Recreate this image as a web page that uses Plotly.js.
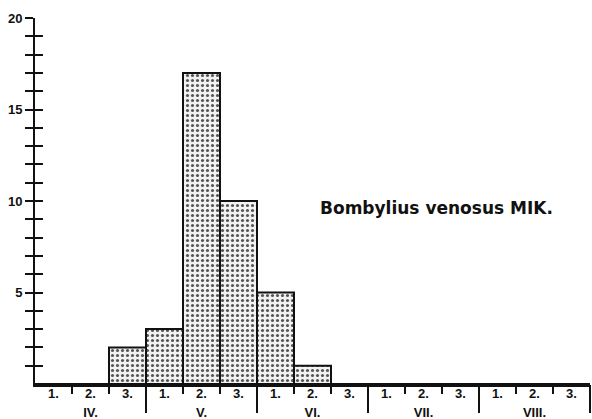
<!DOCTYPE html>
<html>
<head>
<meta charset="utf-8">
<script src="https://cdn.plot.ly/plotly-3.0.1.min.js"></script>
<style>html,body{margin:0;padding:0;background:#fff;}#chart{width:592px;height:419px;}</style>
</head>
<body>
<div id="chart"></div>
<script>
// Data
const months = ["IV.", "V.", "VI.", "VII.", "VIII."];
const decadeLabels = ["1.", "2.", "3."];
const counts = [0, 0, 2, 3, 17, 10, 5, 1, 0, 0, 0, 0, 0, 0, 0]; // one per decade, IV.1 .. VIII.3
const yLabelTicks = [5, 10, 15, 20];
const speciesName = "Bombylius venosus MIK.";

const nDec = counts.length;
const xCenters = counts.map((_, i) => i + 0.5);
const decText = counts.map((_, i) => decadeLabels[i % 3]);
const monthPos = months.map((_, m) => m * 3 + 1.5);
const monthBounds = months.map((_, m) => (m + 1) * 3);
const decBounds = [];
for (let i = 1; i < nDec; i++) if (i % 3 !== 0) decBounds.push(i);
const yTicks = [];
for (let v = 1; v <= 20; v++) yTicks.push(v);
const yText = yTicks.map(v => yLabelTicks.includes(v) ? String(v) : "");

const tickFont = {family: "Liberation Sans, Arial, sans-serif", size: 13, color: "#111", weight: "bold"};

const trace = {
  type: "bar",
  x: xCenters,
  y: counts,
  width: 1,
  marker: {
    color: "#ffffff",
    line: {color: "#111", width: 2},
    pattern: {shape: ".", fgcolor: "#555", bgcolor: "#f2f2f2", size: 5, solidity: 0.3}
  },
  hoverinfo: "skip"
};

const baseX = {range: [0, nDec], showgrid: false, zeroline: false, fixedrange: true};

const layout = {
  width: 592, height: 419,
  margin: {l: 35, r: 2, t: 18, b: 35},
  paper_bgcolor: "#ffffff", plot_bgcolor: "#ffffff",
  showlegend: false,
  bargap: 0,
  xaxis: Object.assign({}, baseX, {
    showline: true, linewidth: 3, linecolor: "#111",
    tickmode: "array", tickvals: decBounds, ticks: "outside", ticklen: 7, tickwidth: 2, tickcolor: "#111",
    showticklabels: false
  }),
  xaxis2: Object.assign({}, baseX, {
    overlaying: "x", anchor: "y", side: "bottom",
    tickmode: "array", tickvals: monthBounds, ticks: "outside", ticklen: 28, tickwidth: 2, tickcolor: "#111",
    showticklabels: false, showline: false
  }),
  xaxis3: Object.assign({}, baseX, {
    overlaying: "x", anchor: "y", side: "bottom",
    tickmode: "array", tickvals: xCenters, ticktext: decText, ticks: "", ticklen: 0,
    tickfont: tickFont, showline: false
  }),
  xaxis4: Object.assign({}, baseX, {
    overlaying: "x", anchor: "y", side: "bottom",
    tickmode: "array", tickvals: monthPos, ticktext: months, ticks: "outside", ticklen: 16,
    tickcolor: "rgba(0,0,0,0)", tickfont: tickFont, showline: false
  }),
  yaxis: {
    range: [0, 20], showgrid: false, zeroline: false, fixedrange: true,
    showline: true, linewidth: 2, linecolor: "#111",
    tickmode: "array", tickvals: yTicks, ticktext: yText,
    ticks: "outside", ticklen: 8, tickwidth: 2, tickcolor: "#111",
    tickfont: tickFont
  },
  yaxis2: {
    range: [0, 20], overlaying: "y", anchor: "x", side: "left",
    showgrid: false, zeroline: false, fixedrange: true, showline: false,
    tickmode: "array", tickvals: yTicks, ticks: "inside", ticklen: 8, tickwidth: 2, tickcolor: "#111",
    showticklabels: false
  },
  annotations: [{
    text: speciesName, xref: "x", yref: "y", x: 10.85, y: 9.6,
    showarrow: false, xanchor: "center", yanchor: "middle",
    font: {family: "DejaVu Sans, sans-serif", size: 17, color: "#111", weight: "bold"}
  }]
};

const helpers = [
  {type: "scatter", x: [0], y: [0], xaxis: "x2", yaxis: "y", mode: "markers", marker: {opacity: 0}, hoverinfo: "skip"},
  {type: "scatter", x: [0], y: [0], xaxis: "x3", yaxis: "y", mode: "markers", marker: {opacity: 0}, hoverinfo: "skip"},
  {type: "scatter", x: [0], y: [0], xaxis: "x4", yaxis: "y", mode: "markers", marker: {opacity: 0}, hoverinfo: "skip"},
  {type: "scatter", x: [0], y: [0], xaxis: "x", yaxis: "y2", mode: "markers", marker: {opacity: 0}, hoverinfo: "skip"}
];

Plotly.newPlot("chart", [trace].concat(helpers), layout, {staticPlot: true, displayModeBar: false});
</script>
</body>
</html>
